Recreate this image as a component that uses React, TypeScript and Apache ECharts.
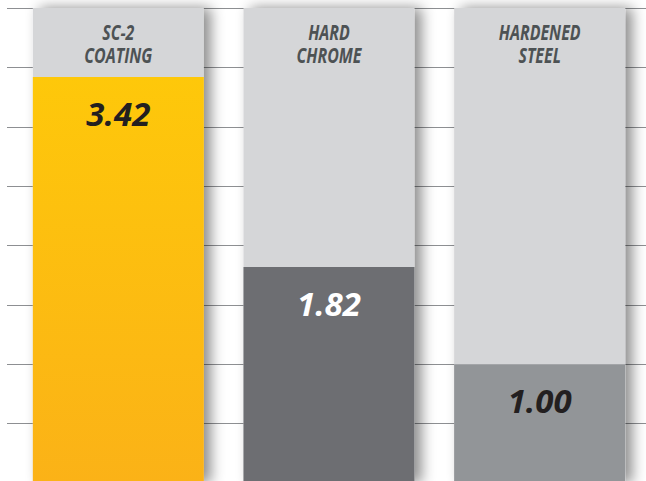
import React, { useEffect, useRef } from "react";
import * as echarts from "echarts";

const categories = ["SC-2\nCOATING", "HARD\nCHROME", "HARDENED\nSTEEL"];
const values = [3.42, 1.82, 1.0];
const axisMin = 0;
const axisMax = 4;
const axisInterval = 0.5;

const labelColors = ["#231f20", "#ffffff", "#231f20"];

export default function App() {
  const ref = useRef<HTMLDivElement>(null);
  useEffect(() => {
    document.body.style.margin = "0";
    document.body.style.overflow = "hidden";
    const chart = echarts.init(ref.current!, null, { renderer: "svg" });
    const yellow = new echarts.graphic.LinearGradient(0, 0, 0, 1, [
      { offset: 0, color: "#fec80a" },
      { offset: 1, color: "#fbb217" },
    ]);
    const barColors: any[] = [yellow, "#6d6e72", "#929598"];
    chart.setOption({
      animation: false,
      backgroundColor: "#ffffff",
      grid: [
        { left: 7, right: 0, top: 8, bottom: 7 },
        { left: 13, right: 1, top: 8, bottom: 7 },
      ],
      xAxis: [
        { gridIndex: 0, type: "value", show: false, min: 0, max: 1 },
        {
          gridIndex: 1,
          type: "category",
          data: categories,
          position: "top",
          axisLine: { show: false },
          axisTick: { show: false },
          axisLabel: { show: false },
        },
      ],
      yAxis: [
        {
          gridIndex: 0,
          type: "value",
          min: axisMin,
          max: axisMax,
          interval: axisInterval,
          axisLine: { show: false },
          axisTick: { show: false },
          axisLabel: { show: false },
          splitLine: { show: true, lineStyle: { color: "#8d8f92", width: 1.2 } },
        },
        {
          gridIndex: 1,
          type: "value",
          min: axisMin,
          max: axisMax,
          interval: axisInterval,
          show: false,
          splitLine: { show: false },
        },
      ],
      series: [
        {
          type: "bar",
          xAxisIndex: 1,
          yAxisIndex: 1,
          barWidth: 171,
          showBackground: true,
          backgroundStyle: {
            color: "#d5d6d8",
            shadowBlur: 14,
            shadowColor: "rgba(0,0,0,0.45)",
            shadowOffsetX: 7,
            shadowOffsetY: 0,
          },
          data: values.map((v, i) => ({
            value: v,
            itemStyle: { color: barColors[i] },
            label: { color: labelColors[i] },
          })),
          label: {
            show: true,
            position: "insideTop",
            distance: 20,
            formatter: (p: any) => Number(p.value).toFixed(2),
            fontFamily: "Open Sans, sans-serif",
            fontStyle: "italic",
            fontWeight: "bold",
            fontSize: 33,
          },
        },
      ],
    });
    // Category titles, condensed, placed through the axes' own scales
    const topY = chart.convertToPixel({ yAxisIndex: 1 }, axisMax) as number;
    const titles = categories.map((c) => {
      const x = chart.convertToPixel({ xAxisIndex: 1 }, c) as number;
      return {
        type: "text",
        x,
        y: topY + 12,
        scaleX: 0.76,
        z: 100,
        style: {
          text: c,
          x: 0,
          y: 0,
          align: "center",
          verticalAlign: "top",
          fill: "#4d5254",
          fontFamily: "Open Sans, sans-serif",
          fontStyle: "italic",
          fontWeight: "bold",
          fontSize: 21,
          lineHeight: 23,
        },
      };
    });
    chart.setOption({ graphic: titles });
    return () => chart.dispose();
  }, []);
  return (
    <div
      ref={ref}
      style={{ position: "fixed", left: 0, top: 0, width: 646, height: 490 }}
    />
  );
}
